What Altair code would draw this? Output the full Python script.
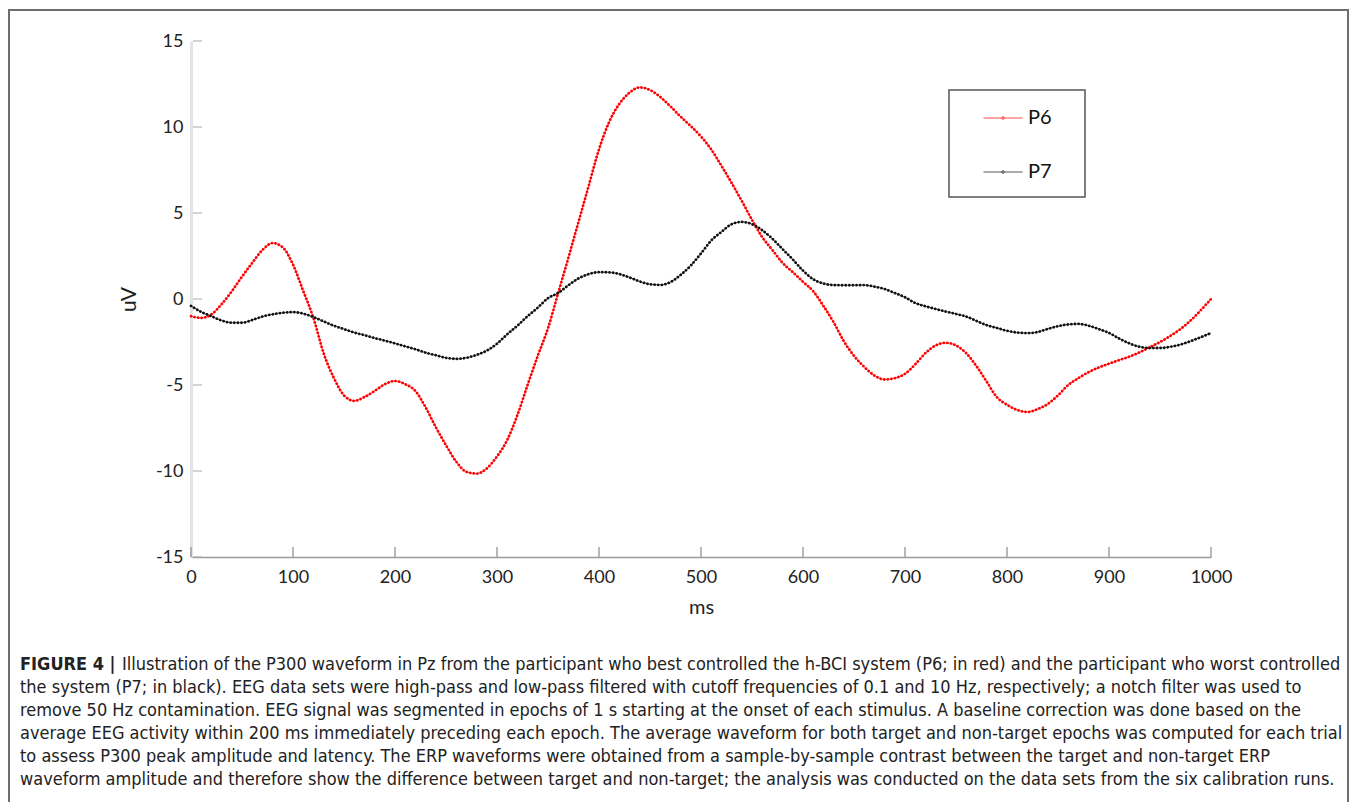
import altair as alt
import pandas as pd

# ---------------- data ----------------
ms = list(range(0, 1001, 10))

p6 = [
    -1.0, -1.1, -0.9, -0.3, 0.45, 1.3, 2.1, 2.85, 3.25, 3.0,
    2.0, 0.47, -1.1, -3.15, -4.58, -5.6, -5.92, -5.7, -5.35, -4.95,
    -4.77, -4.95, -5.35, -6.3, -7.45, -8.5, -9.45, -10.05, -10.15, -9.85,
    -9.15, -8.2, -6.75, -5.0, -3.3, -1.7, 0.35, 2.4, 4.5, 6.6,
    8.7, 10.3, 11.35, 12.0, 12.3, 12.15, 11.75, 11.2, 10.6, 10.05,
    9.45, 8.7, 7.75, 6.75, 5.7, 4.6, 3.6, 2.85, 2.1, 1.56,
    1.0, 0.45, -0.4, -1.35, -2.45, -3.3, -3.95, -4.45, -4.68, -4.6,
    -4.35, -3.8, -3.15, -2.7, -2.55, -2.7, -3.15, -3.9, -4.8, -5.7,
    -6.15, -6.45, -6.57, -6.4, -6.1, -5.6, -5.0, -4.6, -4.25, -3.98,
    -3.76, -3.55, -3.35, -3.1, -2.8, -2.5, -2.15, -1.75, -1.25, -0.65,
    0.0,
]

p7 = [
    -0.4, -0.75, -1.0, -1.25, -1.38, -1.38, -1.22, -1.02, -0.89, -0.8,
    -0.76, -0.85, -1.05, -1.3, -1.55, -1.75, -1.95, -2.1, -2.27, -2.42,
    -2.58, -2.75, -2.92, -3.12, -3.27, -3.42, -3.48, -3.42, -3.25, -3.0,
    -2.6, -2.05, -1.55, -1.0, -0.5, 0.05, 0.35, 0.8, 1.2, 1.45,
    1.56, 1.55, 1.45, 1.25, 1.02, 0.86, 0.82, 0.98, 1.4, 1.95,
    2.65, 3.4, 3.9, 4.35, 4.48, 4.35, 4.0, 3.5, 2.9, 2.3,
    1.65, 1.15, 0.9, 0.81, 0.8, 0.8, 0.81, 0.72, 0.58, 0.35,
    0.1, -0.23, -0.42, -0.58, -0.73, -0.87, -1.02, -1.27, -1.52, -1.68,
    -1.85, -1.95, -1.98, -1.92, -1.74, -1.58, -1.48, -1.45, -1.55, -1.75,
    -1.97, -2.3, -2.58, -2.78, -2.85, -2.85, -2.78, -2.65, -2.45, -2.22,
    -1.98,
]

series_names = ["P6", "P7"]
series_colors = ["#ff0000", "#111111"]

y_ticks = [-15, -10, -5, 0, 5, 10, 15]
x_ticks = [0, 100, 200, 300, 400, 500, 600, 700, 800, 900, 1000]

caption_head = "FIGURE 4 |"
caption_first = ("Illustration of the P300 waveform in Pz from the participant who best controlled "
                 "the h-BCI system (P6; in red) and the participant who worst controlled")
caption_rest = [
    "the system (P7; in black). EEG data sets were high-pass and low-pass filtered with cutoff frequencies of 0.1 and 10 Hz, respectively; a notch filter was used to",
    "remove 50 Hz contamination. EEG signal was segmented in epochs of 1 s starting at the onset of each stimulus. A baseline correction was done based on the",
    "average EEG activity within 200 ms immediately preceding each epoch. The average waveform for both target and non-target epochs was computed for each trial",
    "to assess P300 peak amplitude and latency. The ERP waveforms were obtained from a sample-by-sample contrast between the target and non-target ERP",
    "waveform amplitude and therefore show the difference between target and non-target; the analysis was conducted on the data sets from the six calibration runs.",
]

# ---------------- build ----------------
df = pd.DataFrame({
    "ms": ms + ms,
    "uV": p6 + p7,
    "series": [series_names[0]] * len(ms) + [series_names[1]] * len(ms),
})

W, H = 1020, 516
PAD = {"left": 183, "top": 33, "right": 138, "bottom": 245}

x_scale = alt.Scale(domain=[0, 1000], nice=False, zero=False)
y_scale = alt.Scale(domain=[-15, 15], nice=False, zero=False)
color_scale = alt.Scale(domain=series_names, range=series_colors)

AX_FONT = "Lato"
CAP_FONT = "Liberation Sans Narrow, DejaVu Sans Condensed, Liberation Sans, Arial, sans-serif"
CAP_SIZE = 18

legend_symbol = "M-1,0H1M-0.07,0A0.07,0.07 0 1,0 0.07,0A0.07,0.07 0 1,0 -0.07,0Z"

x_enc = alt.X("ms:Q", scale=x_scale, title="ms",
              axis=alt.Axis(values=x_ticks, labelExpr="'' + datum.value"))
y_enc = alt.Y("uV:Q", scale=y_scale, title="uV",
              axis=alt.Axis(values=y_ticks, labelExpr="'' + datum.value"))

base = alt.Chart(df)

line = base.mark_line(strokeWidth=1, opacity=0.7, interpolate="monotone").encode(
    x=x_enc,
    y=y_enc,
    color=alt.Color("series:N", scale=color_scale,
                    legend=alt.Legend(title=None, orient="none", legendX=792, legendY=57,
                                      symbolType=legend_symbol, symbolSize=1521,
                                      symbolStrokeWidth=1, labelFont=AX_FONT,
                                      labelFontSize=20, labelColor="#111",
                                      labelOffset=5, rowPadding=24, padding=0,
                                      symbolOffset=0)),
)

dots = base.mark_line(strokeWidth=2.8, strokeDash=[0.01, 3.6], strokeCap="round",
                      interpolate="monotone").encode(
    x=x_enc,
    y=y_enc,
    stroke=alt.Stroke("series:N", scale=color_scale, legend=None),
)

# tick positions (same field names so they share the main axes)
ytick_df = pd.DataFrame({"uV": y_ticks})
xtick_df = pd.DataFrame({"ms": x_ticks})

yticks = alt.Chart(ytick_df).mark_rule(color="#a8a8a8", strokeWidth=1).encode(
    y=y_enc, x=alt.value(2), x2=alt.value(11),
)
xticks = alt.Chart(xtick_df).mark_rule(color="#8a8a8a", strokeWidth=1.2).encode(
    x=x_enc, y=alt.value(H - 10), y2=alt.value(H),
)

one = alt.Chart(pd.DataFrame({"k": [0]}))

frame = one.mark_rect(filled=False, stroke="#6e6e6e", strokeWidth=2).encode(
    x=alt.value(-182), x2=alt.value(1157), y=alt.value(-31), y2=alt.value(820),
)
legend_box = one.mark_rect(filled=False, stroke="#555555", strokeWidth=1.5).encode(
    x=alt.value(758), x2=alt.value(894), y=alt.value(49), y2=alt.value(156),
)

cap_head = one.mark_text(font=CAP_FONT, fontSize=CAP_SIZE, fontWeight="bold", align="left",
                         baseline="alphabetic", color="#222").encode(
    x=alt.value(-171), y=alt.value(629), text=alt.value(caption_head))
cap_first = one.mark_text(font=CAP_FONT, fontSize=CAP_SIZE, align="left",
                          baseline="alphabetic", color="#222").encode(
    x=alt.value(-69), y=alt.value(629), text=alt.value(caption_first))
cap_rest = one.mark_text(font=CAP_FONT, fontSize=CAP_SIZE, align="left", lineHeight=23,
                         baseline="alphabetic", color="#222").encode(
    x=alt.value(-171), y=alt.value(652), text=alt.value(caption_rest))

chart = alt.layer(
    line, dots, yticks, xticks, frame, legend_box, cap_head, cap_first, cap_rest
).properties(
    width=W, height=H, autosize="none", padding=PAD, background="white",
).configure_view(
    stroke=None
).configure_axisX(
    ticks=False, grid=False, domainColor="#9a9a9a", domainWidth=1.5,
    labelFont=AX_FONT, labelFontSize=18, labelColor="#222", labelPadding=11,
    labelFlush=False, titleFont=AX_FONT, titleFontSize=20, titleFontWeight="normal",
    titleColor="#222", titlePadding=11,
).configure_axisY(
    ticks=False, grid=False, domainColor="#e3e3e3", domainWidth=3,
    labelFont=AX_FONT, labelFontSize=18, labelColor="#222", labelPadding=8,
    labelFlush=False, titleFont=AX_FONT, titleFontSize=21, titleFontWeight="normal",
    titleColor="#222", titlePadding=16,
)

chart.save("out.html", embed_options={"renderer": "svg", "actions": False})
